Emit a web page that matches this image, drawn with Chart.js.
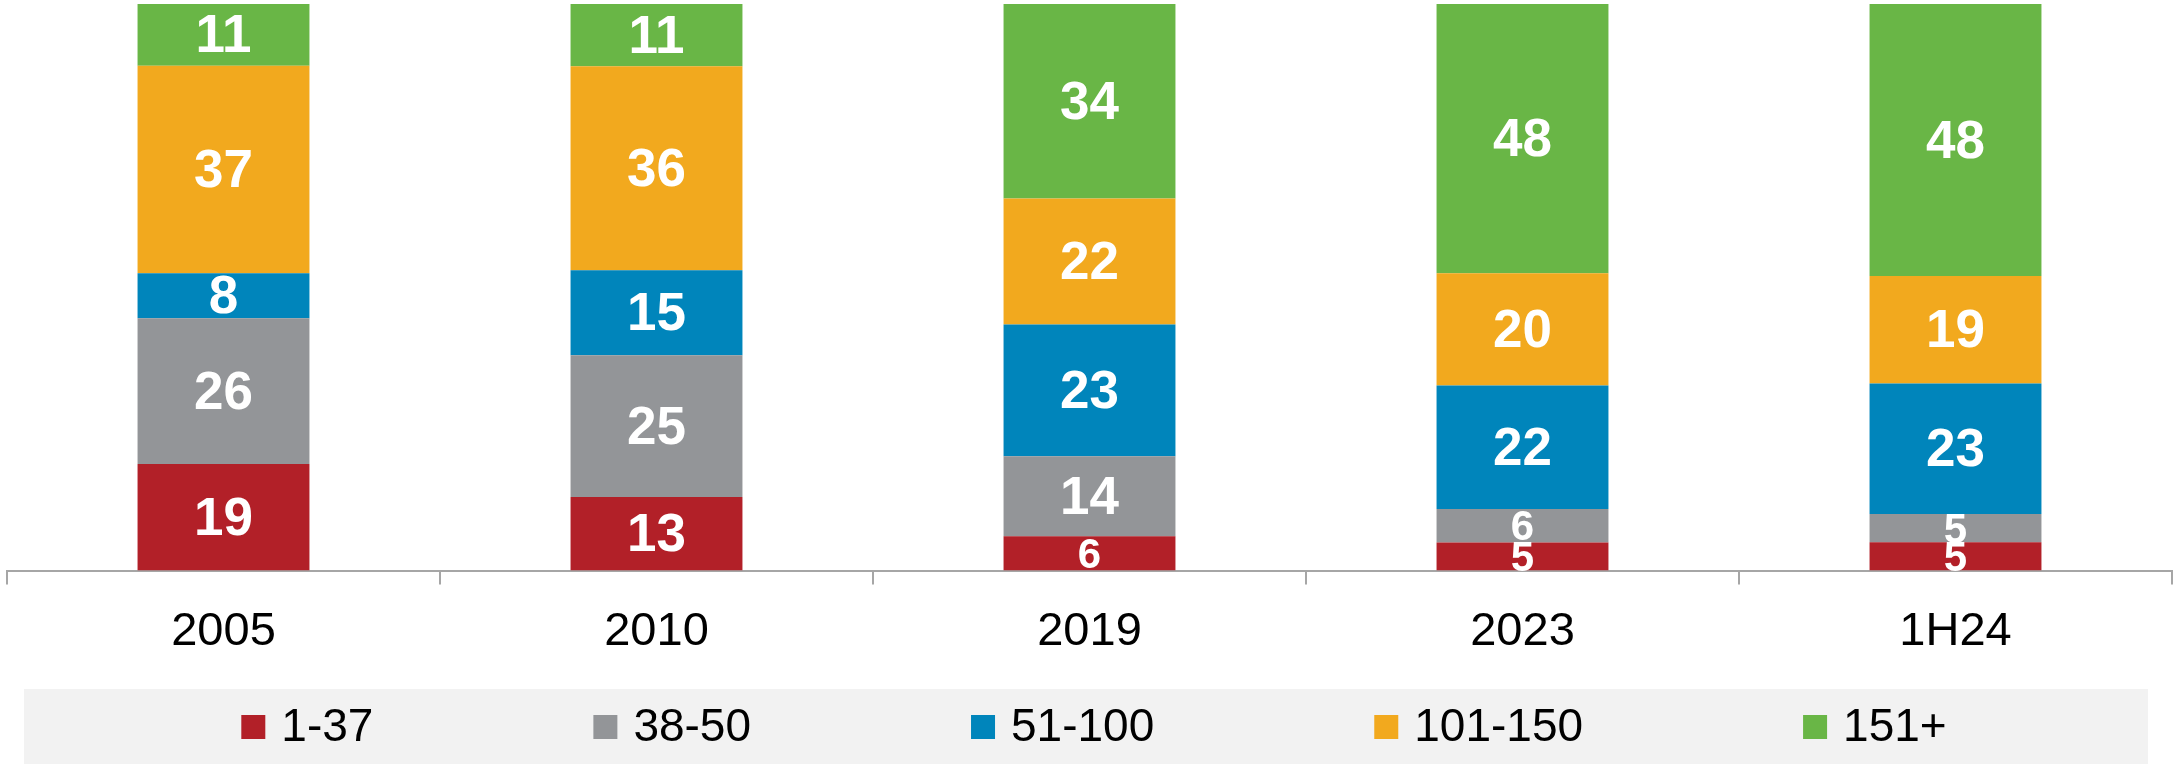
<!DOCTYPE html>
<html>
<head>
<meta charset="utf-8">
<script src="https://cdn.jsdelivr.net/npm/chart.js@4.4.1/dist/chart.umd.min.js"></script>
<style>
html, body { margin: 0; padding: 0; background: #fff; }
</style>
</head>
<body>
<canvas id="sizeChart" width="2175" height="764"></canvas>
<script>
var periods = ['2005', '2010', '2019', '2023', '1H24'];
var bandNames = ['1-37', '38-50', '51-100', '101-150', '151+'];
var band1to37 = [19, 13, 6, 5, 5];
var band38to50 = [26, 25, 14, 6, 5];
var band51to100 = [8, 15, 23, 22, 23];
var band101to150 = [37, 36, 22, 20, 19];
var band151plus = [11, 11, 34, 48, 48];
var bandColors = ['#b22028', '#939598', '#0085bb', '#f2a91e', '#69b646'];

var FONT = '"Liberation Sans", Arial, sans-serif';
var bands = [band1to37, band38to50, band51to100, band101to150, band151plus];

// each column is shown as a 100% stack
var totals = periods.map(function (p, i) {
    return bands.reduce(function (s, b) { return s + b[i]; }, 0);
});

var datasets = bands.map(function (vals, k) {
    return {
        label: bandNames[k],
        data: vals.map(function (v, i) { return v / totals[i] * 100; }),
        rawValues: vals,
        backgroundColor: bandColors[k],
        borderWidth: 0,
        barPercentage: 0.397,
        categoryPercentage: 1.0
    };
});

// white numbers in the middle of each segment
var segmentLabels = {
    id: 'segmentLabels',
    afterDatasetsDraw: function (chart) {
        var ctx = chart.ctx;
        ctx.save();
        ctx.fillStyle = '#ffffff';
        ctx.textAlign = 'center';
        ctx.textBaseline = 'middle';
        chart.data.datasets.forEach(function (ds, di) {
            chart.getDatasetMeta(di).data.forEach(function (bar, i) {
                var v = ds.rawValues[i];
                ctx.font = 'bold ' + (v < 7 ? 42 : 53) + 'px ' + FONT;
                ctx.fillText(String(v), bar.x, (bar.y + bar.base) / 2 + 3);
            });
        });
        ctx.restore();
    }
};

// legend strip on a light grey band
var bandLegend = {
    id: 'bandLegend',
    afterDraw: function (chart) {
        var ctx = chart.ctx;
        var top = chart.height - 75;
        var gap = 220, box = 24, boxGap = 16;
        ctx.save();
        ctx.fillStyle = '#f2f2f2';
        ctx.fillRect(24, top, 2124, 75);
        ctx.font = '46px ' + FONT;
        var widths = chart.data.datasets.map(function (ds) {
            return box + boxGap + ctx.measureText(ds.label).width;
        });
        var total = widths.reduce(function (a, b) { return a + b; }, 0) + gap * (widths.length - 1);
        var x = 1094 - total / 2;
        var cy = top + 38;
        ctx.textBaseline = 'middle';
        ctx.textAlign = 'left';
        chart.data.datasets.forEach(function (ds, k) {
            ctx.fillStyle = ds.backgroundColor;
            ctx.fillRect(x, cy - box / 2, box, box);
            ctx.fillStyle = '#000000';
            ctx.fillText(ds.label, x + box + boxGap, cy + 1);
            x += widths[k] + gap;
        });
        ctx.restore();
    }
};

var chart = new Chart(document.getElementById('sizeChart').getContext('2d'), {
    type: 'bar',
    data: { labels: periods, datasets: datasets },
    options: {
        responsive: false,
        animation: false,
        layout: { padding: { left: 7, right: 3, top: 4, bottom: 85 } },
        plugins: {
            legend: { display: false },
            tooltip: { enabled: false }
        },
        scales: {
            x: {
                stacked: true,
                grid: {
                    display: true,
                    drawOnChartArea: false,
                    drawTicks: true,
                    tickLength: 14,
                    color: '#a6a6a6',
                    lineWidth: 2,
                    offset: true
                },
                border: { display: true, color: '#a6a6a6', width: 2 },
                ticks: {
                    color: '#000000',
                    padding: 19,
                    font: { family: FONT, size: 47 }
                }
            },
            y: {
                stacked: true,
                display: false,
                min: 0,
                max: 100
            }
        }
    },
    plugins: [segmentLabels, bandLegend]
});
</script>
</body>
</html>
